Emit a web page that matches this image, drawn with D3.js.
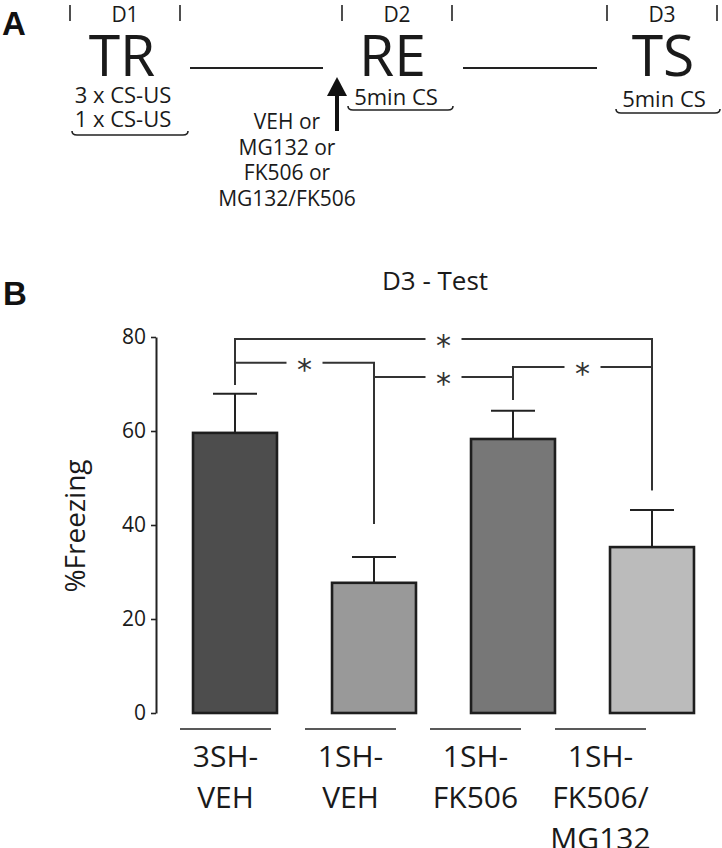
<!DOCTYPE html>
<html>
<head>
<meta charset="utf-8">
<script src="https://cdn.jsdelivr.net/npm/d3@7"></script>
<style>
  html, body { margin: 0; padding: 0; background: #fff; }
  svg { display: block; }
  text { font-family: "Open Sans", "Noto Sans", sans-serif; fill: #1a1a1a; }
</style>
</head>
<body>
<svg id="chart" width="722" height="848"></svg>
<script>
// ---------------- data ----------------
const categories = ["3SH-VEH", "1SH-VEH", "1SH-FK506", "1SH-FK506/MG132"];
const categoryLines = [["3SH-", "VEH"], ["1SH-", "VEH"], ["1SH-", "FK506"], ["1SH-", "FK506/", "MG132"]];
const freezingMean = [59.6, 27.7, 58.3, 35.3];
const freezingSem = [8.3, 5.5, 6.0, 7.9];
const barColors = ["#4d4d4d", "#999999", "#777777", "#bbbbbb"];
const yTicks = [0, 20, 40, 60, 80];
// significance brackets: from group a to group b, bracket level, drop levels (in % units)
const sigFrom = [0, 0, 1, 2];
const sigTo = [3, 1, 2, 3];
const sigLevel = [79.6, 74.5, 71.5, 73.6];
const sigDropA = [69.8, 69.8, 40.2, 66.6];
const sigDropB = [47.4, 40.2, 66.6, 47.4];
const sigMark = ["*", "*", "*", "*"];
// panel A timeline
const dayLabels = ["D1", "D2", "D3"];
const phaseLabels = ["TR", "RE", "TS"];
const phaseNotes = [["3 x CS-US", "1 x CS-US"], ["5min CS"], ["5min CS"]];
const drugLines = ["VEH or", "MG132 or", "FK506 or", "MG132/FK506"];

const svg = d3.select("#chart");

// ---------------- Panel A ----------------
const A = svg.append("g");
A.append("text").attr("x", 2).attr("y", 35).text("A")
  .style("font-family", "'Liberation Sans', Arial, sans-serif")
  .style("font-weight", "bold").style("font-size", "33px").style("fill", "#111");

const tl = d3.scalePoint().domain(phaseLabels).range([122, 663]);
const dayCenters = [125, 397, 662];
const dayHalf = [55, 55, 55];

phaseLabels.forEach((p, i) => {
  const cx = dayCenters[i];
  [-dayHalf[i], dayHalf[i]].forEach(d => {
    A.append("line").attr("x1", cx + d).attr("x2", cx + d).attr("y1", 5).attr("y2", 21)
      .attr("stroke", "#222").attr("stroke-width", 1.6);
  });
  A.append("text").attr("x", cx).attr("y", 22).attr("text-anchor", "middle")
    .style("font-size", "21px").text(dayLabels[i]);
  A.append("text").attr("x", tl(p)).attr("y", 76).attr("text-anchor", "middle")
    .style("font-size", "57px").text(p);
});

// connecting lines
A.append("line").attr("x1", 190).attr("x2", 323).attr("y1", 68).attr("y2", 68)
  .attr("stroke", "#222").attr("stroke-width", 1.8);
A.append("line").attr("x1", 463).attr("x2", 597).attr("y1", 68).attr("y2", 68)
  .attr("stroke", "#222").attr("stroke-width", 1.8);

// notes and braces
function brace(g, x0, x1, y) {
  g.append("path")
    .attr("d", `M${x0},${y - 4} Q${x0},${y} ${x0 + 5},${y} L${x1 - 5},${y} Q${x1},${y} ${x1},${y - 4}`)
    .attr("fill", "none").attr("stroke", "#222").attr("stroke-width", 1.6);
}
A.append("text").attr("x", 123).attr("y", 103).attr("text-anchor", "middle")
  .style("font-size", "22px").text(phaseNotes[0][0]);
A.append("text").attr("x", 123).attr("y", 127).attr("text-anchor", "middle")
  .style("font-size", "22px").text(phaseNotes[0][1]);
brace(A, 72, 188, 135);
A.append("text").attr("x", 396).attr("y", 105).attr("text-anchor", "middle")
  .style("font-size", "22px").text(phaseNotes[1][0]);
brace(A, 348, 453, 110);
A.append("text").attr("x", 664).attr("y", 107).attr("text-anchor", "middle")
  .style("font-size", "22px").text(phaseNotes[2][0]);
brace(A, 616, 720, 113);

// arrow
A.append("line").attr("x1", 337).attr("x2", 337).attr("y1", 131).attr("y2", 90)
  .attr("stroke", "#111").attr("stroke-width", 4);
A.append("path").attr("d", "M327,96 L337,77 L347,96 Z").attr("fill", "#111");

drugLines.forEach((t, i) => {
  A.append("text").attr("x", 287).attr("y", 129 + i * 25.5).attr("text-anchor", "middle")
    .style("font-size", "21px").text(t);
});

// ---------------- Panel B ----------------
const B = svg.append("g");
B.append("text").attr("x", 3).attr("y", 305).text("B")
  .style("font-family", "'Liberation Sans', Arial, sans-serif")
  .style("font-weight", "bold").style("font-size", "33px").style("fill", "#111");

B.append("text").attr("x", 435).attr("y", 290).attr("text-anchor", "middle")
  .style("font-size", "26px").text("D3 - Test");

const y = d3.scaleLinear().domain([0, 80]).range([713, 337]);
const x = d3.scaleBand().domain(categories).range([165.5, 721.5])
  .paddingInner(0.396).paddingOuter(0.198);
const xl = d3.scalePoint().domain(categories).range([225.5, 600.5]);

// y axis
const yAxis = B.append("g").attr("transform", "translate(156,0)")
  .call(d3.axisLeft(y).tickValues(yTicks).tickSize(5).tickSizeOuter(0).tickPadding(5));
yAxis.select(".domain").attr("stroke", "#222").attr("stroke-width", 2);
yAxis.selectAll(".tick line").attr("stroke", "#222").attr("stroke-width", 1.6);
yAxis.selectAll(".tick text").style("font-size", "21px").style("font-family", "'Open Sans', sans-serif")
  .attr("fill", "#1a1a1a");

B.append("text").attr("transform", "translate(85,526) rotate(-90)").attr("text-anchor", "middle")
  .style("font-size", "28px").text("%Freezing");

// error bars
categories.forEach((c, i) => {
  const cx = x(c) + x.bandwidth() / 2;
  B.append("line").attr("x1", cx).attr("x2", cx)
    .attr("y1", y(freezingMean[i])).attr("y2", y(freezingMean[i] + freezingSem[i]))
    .attr("stroke", "#222").attr("stroke-width", 2);
  B.append("line").attr("x1", cx - 22).attr("x2", cx + 22)
    .attr("y1", y(freezingMean[i] + freezingSem[i])).attr("y2", y(freezingMean[i] + freezingSem[i]))
    .attr("stroke", "#222").attr("stroke-width", 2);
});

// bars
B.selectAll("rect.bar").data(categories).join("rect").attr("class", "bar")
  .attr("x", d => x(d)).attr("width", x.bandwidth())
  .attr("y", (d, i) => y(freezingMean[i]))
  .attr("height", (d, i) => y(0) - y(freezingMean[i]))
  .attr("fill", (d, i) => barColors[i])
  .attr("stroke", "#1e1e1e").attr("stroke-width", 2.6);

// category underline + labels
categories.forEach((c, i) => {
  const cx = xl(c);
  B.append("line").attr("x1", cx - 45.5).attr("x2", cx + 45.5).attr("y1", 729).attr("y2", 729)
    .attr("stroke", "#222").attr("stroke-width", 1.6);
  categoryLines[i].forEach((t, j) => {
    B.append("text").attr("x", cx).attr("y", 767 + j * 41).attr("text-anchor", "middle")
      .style("font-size", "30px").text(t);
  });
});

// significance brackets
sigFrom.forEach((a, k) => {
  const b = sigTo[k];
  const xa = x(categories[a]) + x.bandwidth() / 2;
  const xb = x(categories[b]) + x.bandwidth() / 2;
  const yl = y(sigLevel[k]);
  const xm = (xa + xb) / 2;
  const gap = 18;
  const g = B.append("g").attr("stroke", "#333").attr("stroke-width", 2).attr("fill", "none");
  g.append("path").attr("d", `M${xa},${y(sigDropA[k])} L${xa},${yl} L${xm - gap},${yl}`);
  g.append("path").attr("d", `M${xm + gap},${yl} L${xb},${yl} L${xb},${y(sigDropB[k])}`);
  B.append("text").attr("x", xm).attr("y", yl + 17).attr("text-anchor", "middle")
    .style("font-family", "'DejaVu Sans', sans-serif")
    .style("font-size", "30px").style("fill", "#333").text(sigMark[k]);
});
</script>
</body>
</html>
